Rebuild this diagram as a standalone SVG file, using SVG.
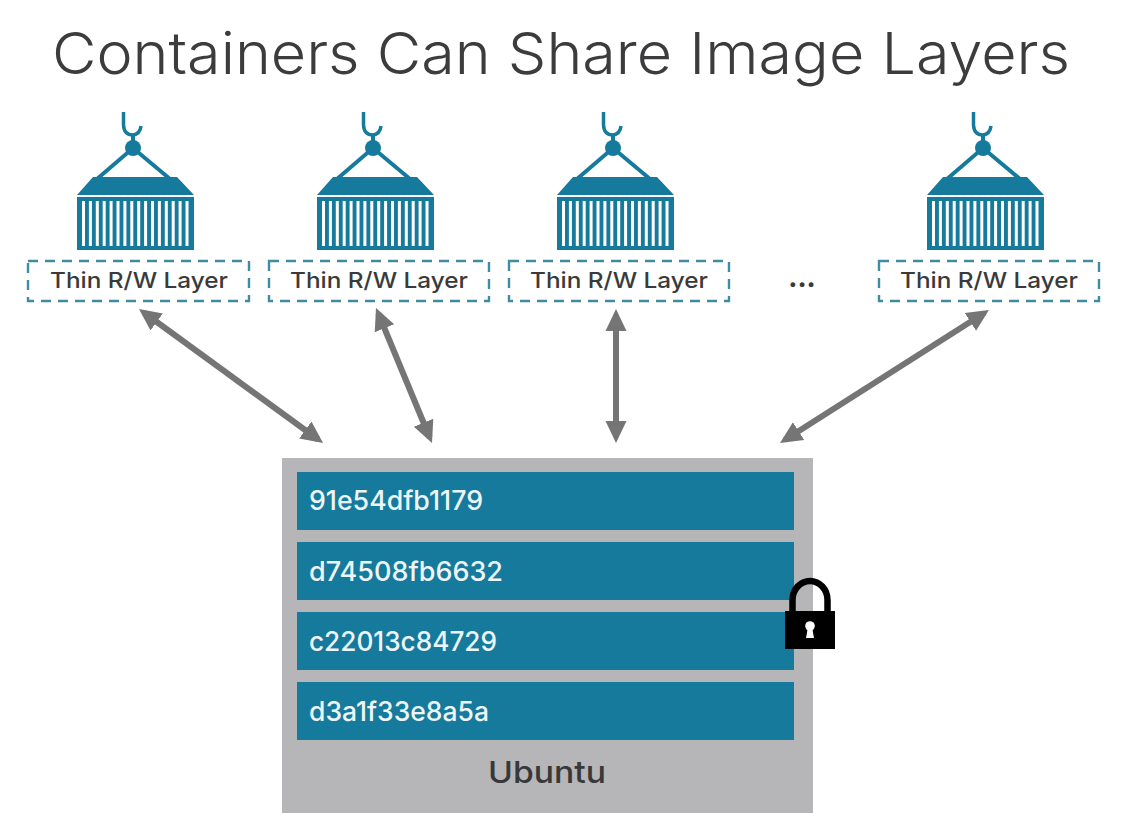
<svg xmlns="http://www.w3.org/2000/svg" width="1130" height="821" viewBox="0 0 1130 821">
<style>
.t{font-family:"Inter","Open Sans","Liberation Sans",sans-serif}
.title{font-size:58px;font-weight:300;fill:#3c3c3e}
.thin{font-size:22px;font-weight:500;fill:#3a3a3c}
.hash{font-size:26.500px;font-weight:500;fill:#eef5f8}
.teal{fill:#167a9c}
.dash{fill:none;stroke:#3f8ba4;stroke-width:2.400;stroke-dasharray:10 7}
.arrow{stroke:#757576;stroke-width:6;fill:none;marker-start:url(#ah);marker-end:url(#ah)}
.layer{fill:#167a9c}
</style>
<defs>
<marker id="ah" markerUnits="userSpaceOnUse" markerWidth="24" markerHeight="24" refX="16" refY="12" orient="auto-start-reverse"><path d="M0 1.500L22 12L0 22.500Z" fill="#757576"/></marker>
<g id="crane">
<path d="M123.500 112V125Q124 135 133 135Q140 134 141 126" fill="none" stroke="#167a9c" stroke-width="3.500"/>
<path d="M133 134V144" stroke="#167a9c" stroke-width="4"/>
<circle cx="133" cy="148" r="8" class="teal"/>
<path d="M97 179L133 148L170 179" fill="none" stroke="#167a9c" stroke-width="4"/>
<path d="M93 177H177L194 195H77Z" class="teal"/>
<rect x="77" y="197" width="117" height="53" class="teal"/>
<path d="M83.500 201V246M90.400 201V246M97.300 201V246M104.200 201V246M111.100 201V246M118 201V246M124.900 201V246M131.800 201V246M138.700 201V246M145.600 201V246M152.500 201V246M159.400 201V246M166.300 201V246M173.200 201V246M180.100 201V246M187 201V246" stroke="#fff" stroke-width="3"/>
</g>
</defs>
<rect width="1130" height="821" fill="#fff"/>
<text class="t title" x="561" y="74" text-anchor="middle" textLength="1018" lengthAdjust="spacingAndGlyphs">Containers Can Share Image Layers</text>
<g id="container-1"><use href="#crane"/><rect class="dash" x="28" y="261" width="221" height="40"/><text class="t thin" x="139" y="288" text-anchor="middle" textLength="178" lengthAdjust="spacingAndGlyphs">Thin R/W Layer</text></g>
<g id="container-2"><use href="#crane" x="240"/><rect class="dash" x="269" y="261" width="220" height="40"/><text class="t thin" x="379" y="288" text-anchor="middle" textLength="178" lengthAdjust="spacingAndGlyphs">Thin R/W Layer</text></g>
<g id="container-3"><use href="#crane" x="480"/><rect class="dash" x="509" y="261" width="220" height="40"/><text class="t thin" x="619" y="288" text-anchor="middle" textLength="178" lengthAdjust="spacingAndGlyphs">Thin R/W Layer</text></g>
<g id="ellipsis"><text class="t" x="802" y="287" text-anchor="middle" font-size="26" font-weight="800" fill="#3a3a3c">...</text></g>
<g id="container-4"><use href="#crane" x="850"/><rect class="dash" x="879" y="261" width="220" height="40"/><text class="t thin" x="989" y="288" text-anchor="middle" textLength="178" lengthAdjust="spacingAndGlyphs">Thin R/W Layer</text></g>
<g id="connectors">
<path class="arrow" d="M143.800 312.500L318.200 439.500"/>
<path class="arrow" d="M378.300 313.500L429.700 437.500"/>
<path class="arrow" d="M616 315V437"/>
<path class="arrow" d="M983.900 313.200L785.100 439.800"/>
</g>
<g id="ubuntu">
<rect x="282" y="458" width="531" height="355" fill="#b6b5b7"/>
<text class="t" x="547" y="783" text-anchor="middle" font-size="30" font-weight="500" fill="#38383a" textLength="118" lengthAdjust="spacingAndGlyphs">Ubuntu</text>
</g>
<g id="layer-1"><rect class="layer" x="297" y="472" width="497" height="58"/><text class="t hash" x="309" y="510" textLength="174" lengthAdjust="spacingAndGlyphs">91e54dfb1179</text></g>
<g id="layer-2"><rect class="layer" x="297" y="542" width="497" height="58"/><text class="t hash" x="309" y="581" textLength="194" lengthAdjust="spacingAndGlyphs">d74508fb6632</text></g>
<g id="layer-3"><rect class="layer" x="297" y="612" width="497" height="58"/><text class="t hash" x="309" y="651" textLength="188" lengthAdjust="spacingAndGlyphs">c22013c84729</text></g>
<g id="layer-4"><rect class="layer" x="297" y="682" width="497" height="58"/><text class="t hash" x="309" y="721" textLength="180" lengthAdjust="spacingAndGlyphs">d3a1f33e8a5a</text></g>
<g id="lock">
<path d="M792.500 612V600A17.500 19 0 0 1 827.500 600V612" fill="none" stroke="#000" stroke-width="6.500"/>
<rect x="785" y="611" width="50" height="38"/>
<circle cx="810" cy="626" r="4.800" fill="#fff"/>
<path d="M808 627L806 638H814L812 627Z" fill="#fff"/>
</g>
</svg>
